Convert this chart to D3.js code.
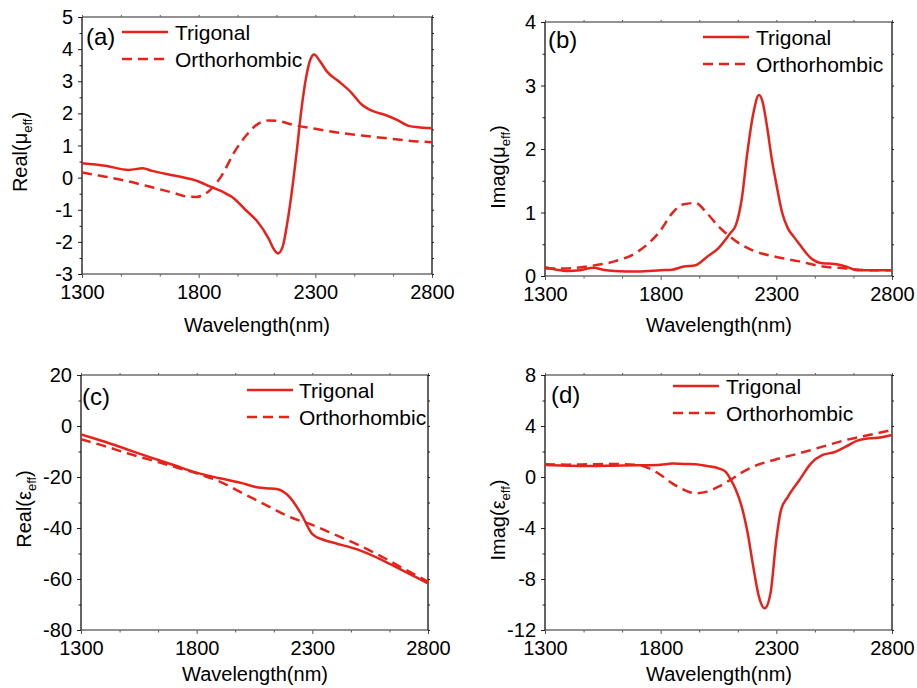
<!DOCTYPE html>
<html><head><meta charset="utf-8">
<script src="https://cdn.jsdelivr.net/npm/d3@7"></script>
<style>
body{margin:0;background:#fff}
svg{display:block}
text{font-family:"Liberation Sans",Arial,sans-serif;fill:#000}
</style>
</head><body>
<svg id="chart" width="917" height="688"></svg>
<script>
// ---------- DATA ----------
const xTicks = [1300, 1800, 2300, 2800];
const xMinor = [1466.7, 1633.3, 1966.7, 2133.3, 2466.7, 2633.3];
const seriesNames = ["Trigonal", "Orthorhombic"];

// (a) Real(mu_eff)
const waveMuReTri = [1300,1400,1500,1560,1600,1700,1800,1850,1900,1950,2000,2050,2100,2120,2140,2160,2180,2200,2220,2240,2260,2280,2295,2320,2350,2400,2450,2500,2550,2600,2650,2700,2750,2800];
const muReTri     = [0.45,0.37,0.24,0.29,0.21,0.06,-0.12,-0.28,-0.43,-0.64,-1.0,-1.35,-1.9,-2.2,-2.36,-2.15,-1.4,-0.4,0.8,2.1,3.1,3.7,3.83,3.62,3.3,3.0,2.68,2.27,2.06,1.95,1.8,1.61,1.56,1.54];
const waveMuReOrt = [1300,1400,1500,1600,1700,1750,1790,1850,1900,1950,2000,2050,2100,2150,2200,2300,2400,2500,2600,2700,2800];
const muReOrt     = [0.16,0.03,-0.12,-0.3,-0.49,-0.59,-0.6,-0.38,0.08,0.76,1.28,1.65,1.78,1.75,1.65,1.52,1.4,1.31,1.23,1.15,1.1];
const yTicksA = [-3,-2,-1,0,1,2,3,4,5];

// (b) Imag(mu_eff)
const waveMuImTri = [1300,1350,1400,1450,1510,1550,1600,1700,1800,1850,1900,1950,2000,2050,2100,2125,2150,2175,2200,2225,2240,2260,2280,2300,2325,2350,2375,2400,2450,2500,2550,2600,2650,2700,2800];
const muImTri     = [0.14,0.10,0.08,0.09,0.13,0.10,0.08,0.07,0.09,0.10,0.15,0.17,0.30,0.44,0.67,0.8,1.2,1.95,2.55,2.85,2.75,2.35,1.85,1.45,1.0,0.75,0.62,0.5,0.28,0.2,0.19,0.15,0.09,0.09,0.09];
const waveMuImOrt = [1300,1400,1500,1600,1700,1800,1850,1900,1950,2000,2050,2100,2150,2200,2300,2400,2500,2600,2700,2800];
const muImOrt     = [0.12,0.12,0.16,0.23,0.38,0.72,0.99,1.13,1.15,0.99,0.78,0.62,0.49,0.40,0.30,0.23,0.15,0.12,0.09,0.09];
const yTicksB = [0,1,2,3,4];

// (c) Real(eps_eff)
const waveEpsReTri = [1300,1400,1500,1600,1700,1800,1900,2000,2050,2100,2150,2200,2250,2300,2350,2400,2500,2600,2700,2800];
const epsReTri     = [-3.3,-6.1,-9.2,-12.3,-15.3,-18.3,-20.5,-22.5,-23.8,-24.4,-24.8,-27.7,-34.2,-42.4,-44.7,-46,-48.6,-52.5,-57.1,-61.7];
const waveEpsReOrt = [1300,1400,1500,1600,1700,1800,1900,2000,2100,2200,2300,2400,2500,2600,2700,2800];
const epsReOrt     = [-5.2,-7.8,-10.7,-13.3,-15.9,-18.6,-21.8,-26.4,-31,-35.6,-38.8,-42.7,-46.7,-51.2,-56.2,-61];
const yTicksC = [-80,-60,-40,-20,0,20];

// (d) Imag(eps_eff)
const waveEpsImTri = [1300,1400,1500,1600,1700,1800,1850,1900,1950,2000,2050,2080,2100,2125,2150,2176,2200,2225,2250,2275,2300,2320,2350,2400,2450,2500,2550,2600,2650,2700,2750,2800];
const epsImTri     = [0.94,0.89,0.86,0.89,0.92,0.97,1.05,1.02,1.0,0.86,0.68,0.42,-0.1,-1.0,-2.3,-4.4,-7.0,-9.4,-10.3,-9.1,-4.9,-2.6,-1.55,-0.24,1.07,1.73,1.94,2.38,2.85,3.03,3.1,3.29];
const waveEpsImOrt = [1300,1400,1500,1600,1700,1750,1800,1850,1900,1950,2000,2050,2100,2150,2200,2300,2400,2500,2600,2700,2800];
const epsImOrt     = [1.0,0.97,1.0,1.02,0.94,0.68,0.16,-0.5,-1.0,-1.28,-1.15,-0.76,-0.24,0.34,0.81,1.39,1.86,2.38,2.9,3.29,3.69];
const yTicksD = [-12,-8,-4,0,4,8];

// ---------- LAYOUT ----------
const RED = "#e6231a";
const panels = [
  {tag:"(a)", box:[82,432,17,274], yd:[-3,5], yt:yTicksA, ym:0.5, title:["Real(","μ","eff",")"], tcx:27, tcy:152,
   tri:[waveMuReTri,muReTri], ort:[waveMuReOrt,muReOrt], tagPos:[86,45], leg:[122,168,32,175], xtY:332, xtX:257},
  {tag:"(b)", box:[545,892,22,276], yd:[0,4], yt:yTicksB, ym:0.5, title:["Imag(","μ","eff",")"], tcx:505, tcy:167,
   tri:[waveMuImTri,muImTri], ort:[waveMuImOrt,muImOrt], tagPos:[548,48], leg:[703,749,37,756], xtY:332, xtX:719},
  {tag:"(c)", box:[81,428,375,630], yd:[-80,20], yt:yTicksC, ym:10, title:["Real(","ε","eff",")"], tcx:31, tcy:509,
   tri:[waveEpsReTri,epsReTri], ort:[waveEpsReOrt,epsReOrt], tagPos:[82,405], leg:[247,293,390,299], xtY:681, xtX:255},
  {tag:"(d)", box:[545,892,375,630], yd:[-12,8], yt:yTicksD, ym:2, title:["Imag(","ε","eff",")"], tcx:505, tcy:520,
   tri:[waveEpsImTri,epsImTri], ort:[waveEpsImOrt,epsImOrt], tagPos:[551,403], leg:[673,719,386,726], xtY:681, xtX:719}
];

const svg = d3.select("#chart");

panels.forEach(p => {
  const [L,R,T,B] = p.box;
  const x = d3.scaleLinear().domain([1300,2800]).range([L,R]);
  const y = d3.scaleLinear().domain(p.yd).range([B,T]);
  const yMinorVals = d3.range(p.yd[0], p.yd[1] + 1e-9, p.ym).filter(v => !p.yt.some(t => Math.abs(t-v) < 1e-9));
  const yAll = d3.range(p.yd[0], p.yd[1] + 1e-9, p.ym);
  const g = svg.append("g");

  const style = (sel, color) => {
    sel.select(".domain").remove();
    sel.selectAll("line").attr("stroke", color).attr("stroke-width", 1);
    sel.selectAll("text").attr("font-size", 20).attr("font-family", '"Liberation Sans",Arial,sans-serif').attr("fill","#000");
  };

  // bottom major + minor
  g.append("g").attr("transform", `translate(0,${B})`)
    .call(d3.axisBottom(x).tickValues(xTicks).tickSize(4).tickPadding(7).tickFormat(d => String(d)))
    .call(s => style(s, "#555"));
  g.append("g").attr("transform", `translate(0,${B})`)
    .call(d3.axisBottom(x).tickValues(xMinor).tickSize(2.5).tickFormat(""))
    .call(s => style(s, "#555"));
  // top ticks
  g.append("g").attr("transform", `translate(0,${T})`)
    .call(d3.axisTop(x).tickValues(xTicks.concat(xMinor)).tickSize(2).tickFormat(""))
    .call(s => style(s, "#555"));
  // left major + minor
  g.append("g").attr("transform", `translate(${L},0)`)
    .call(d3.axisLeft(y).tickValues(p.yt).tickSize(4).tickPadding(5).tickFormat(d => String(d)))
    .call(s => style(s, "#222"))
    .call(s => s.selectAll("text").attr("dy","0.33em"));
  g.append("g").attr("transform", `translate(${L},0)`)
    .call(d3.axisLeft(y).tickValues(yMinorVals).tickSize(2.5).tickFormat(""))
    .call(s => style(s, "#222"));
  // right ticks
  g.append("g").attr("transform", `translate(${R},0)`)
    .call(d3.axisRight(y).tickValues(yAll).tickSize(2).tickFormat(""))
    .call(s => style(s, "#222"));

  // frame
  g.append("line").attr("x1",L).attr("x2",R).attr("y1",B).attr("y2",B).attr("stroke","#6e6e6e").attr("stroke-width",1.6);
  g.append("line").attr("x1",L).attr("x2",R).attr("y1",T).attr("y2",T).attr("stroke","#6e6e6e").attr("stroke-width",1.6);
  g.append("line").attr("x1",L).attr("x2",L).attr("y1",T).attr("y2",B).attr("stroke","#111").attr("stroke-width",1.3);
  g.append("line").attr("x1",R).attr("x2",R).attr("y1",T).attr("y2",B).attr("stroke","#111").attr("stroke-width",1.3);

  // curves
  const line = d3.line().x(d => x(d[0])).y(d => y(d[1])).curve(d3.curveMonotoneX);
  const triPts = p.tri[0].map((w,i) => [w, p.tri[1][i]]);
  const ortPts = p.ort[0].map((w,i) => [w, p.ort[1][i]]);
  const clipId = "clip" + p.tag.replace(/[()]/g,"");
  svg.append("clipPath").attr("id", clipId).append("rect").attr("x",L).attr("y",T-2).attr("width",R-L+2).attr("height",B-T+4);
  g.append("path").datum(ortPts).attr("d", line).attr("fill","none").attr("stroke",RED)
    .attr("stroke-width",2.5).attr("stroke-dasharray","10,6").attr("clip-path",`url(#${clipId})`);
  g.append("path").datum(triPts).attr("d", line).attr("fill","none").attr("stroke",RED)
    .attr("stroke-width",2.5).attr("clip-path",`url(#${clipId})`);

  // panel tag
  g.append("text").attr("x",p.tagPos[0]).attr("y",p.tagPos[1]).attr("font-size",24).text(p.tag);

  // legend
  const [lx1,lx2,ly,tx] = p.leg;
  g.append("line").attr("x1",lx1).attr("x2",lx2).attr("y1",ly).attr("y2",ly).attr("stroke",RED).attr("stroke-width",2.5);
  g.append("text").attr("x",tx).attr("y",ly+7.5).attr("font-size",21).text(seriesNames[0]);
  g.append("line").attr("x1",lx1).attr("x2",lx2).attr("y1",ly+27).attr("y2",ly+27).attr("stroke",RED).attr("stroke-width",2.5).attr("stroke-dasharray","10,6");
  g.append("text").attr("x",tx).attr("y",ly+34.5).attr("font-size",21).text(seriesNames[1]);

  // x title
  g.append("text").attr("x",p.xtX).attr("y",p.xtY).attr("text-anchor","middle").attr("font-size",20).text("Wavelength(nm)");

  // y title
  const yt = g.append("text").attr("transform",`translate(${p.tcx},${p.tcy}) rotate(-90)`).attr("text-anchor","middle").attr("font-size",20);
  yt.append("tspan").text(p.title[0] + p.title[1]);
  yt.append("tspan").attr("font-size",13).attr("dy",5).text(p.title[2]);
  yt.append("tspan").attr("dy",-5).text(p.title[3]);
});
</script>
</body></html>
